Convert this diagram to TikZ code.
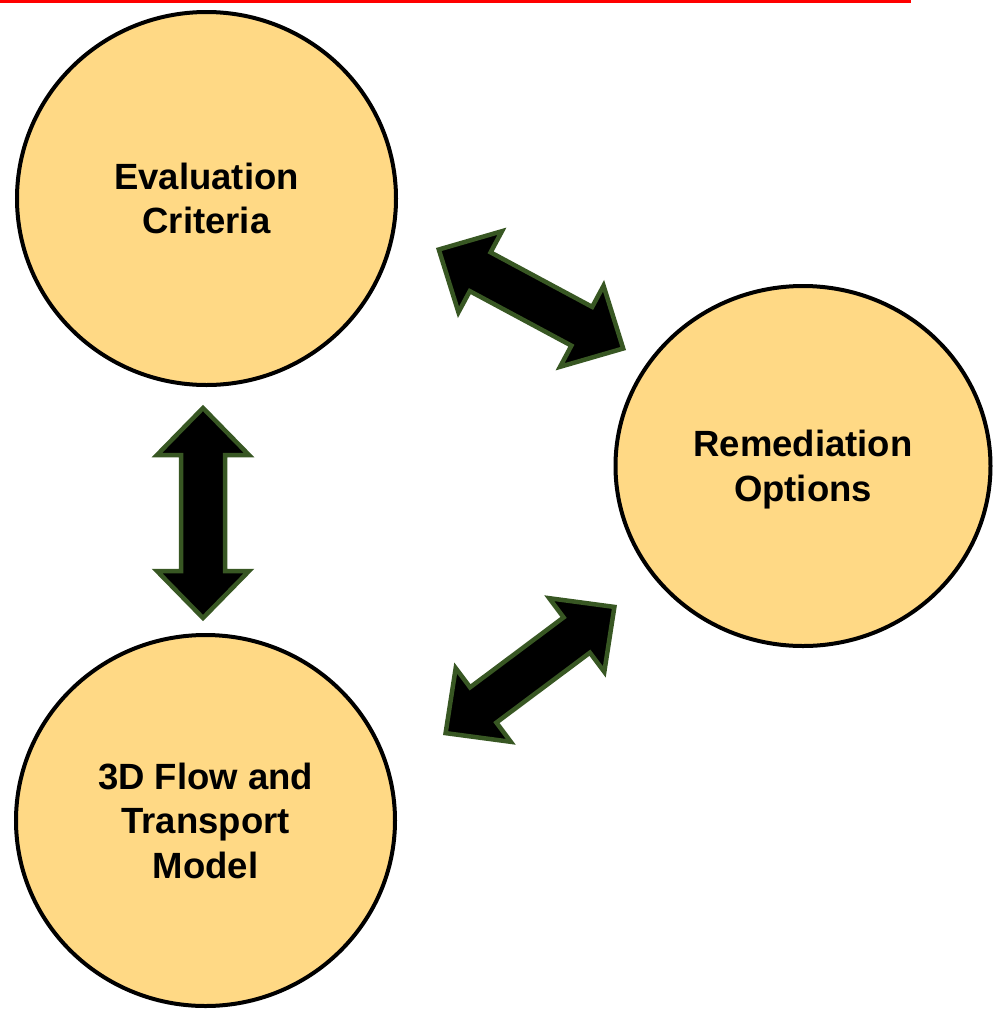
\documentclass[tikz,border=0pt]{standalone}
\usepackage{fontspec}
\setmainfont{Liberation Sans}
\usetikzlibrary{calc,shapes.geometric}
\definecolor{circfill}{HTML}{FFD985}
\definecolor{arrowgreen}{HTML}{385723}
\tikzset{
  bubble/.style={ellipse, draw=black, line width=4pt, fill=circfill, inner sep=0pt,
    align=center, text depth=0pt, font=\fontsize{36.5pt}{44.5pt}\selectfont\bfseries},
  dblarrow/.style={fill=black, draw=arrowgreen, line width=4.5pt, line join=miter},
}
\newcommand\twoheadblk[2]{%
  \coordinate (#1-#2-p) at ($(#1)!47pt!(#2)$);
  \coordinate (#1-#2-q) at ($(#2)!47pt!(#1)$);
  \draw[dblarrow] (#1)
    -- ($(#1-#2-p)!46pt!90:(#2)$)
    -- ($(#1-#2-p)!22pt!90:(#2)$)
    -- ($(#1-#2-q)!22pt!-90:(#1)$)
    -- ($(#1-#2-q)!46pt!-90:(#1)$)
    -- (#2)
    -- ($(#1-#2-q)!46pt!90:(#1)$)
    -- ($(#1-#2-q)!22pt!90:(#1)$)
    -- ($(#1-#2-p)!22pt!-90:(#2)$)
    -- ($(#1-#2-p)!46pt!-90:(#2)$)
    -- cycle;}
\begin{document}
\begin{tikzpicture}[x=1pt,y=-1pt]
\useasboundingbox (0,0) rectangle (996,1013);
\fill[red] (0,0) rectangle (911,3);
\node[bubble, minimum width=379pt, minimum height=373pt] (eval) at (206.5,198.5) {Evaluation\\Criteria};
\node[bubble, minimum width=375pt, minimum height=360pt] (remed) at (803,466) {Remediation\\Options};
\node[bubble, minimum width=379pt, minimum height=371pt] (model) at (205.5,820.5) {3D Flow and\\Transport\\Model};
% arrow end points
\coordinate (v1) at (203,408);
\coordinate (v2) at (203,618);
\coordinate (u1) at (438.8,249.5);
\coordinate (u2) at (623.2,348.5);
\coordinate (l1) at (445.6,733.1);
\coordinate (l2) at (614.4,606.9);
\twoheadblk{v1}{v2}
\twoheadblk{u1}{u2}
\twoheadblk{l1}{l2}
\end{tikzpicture}
\end{document}
